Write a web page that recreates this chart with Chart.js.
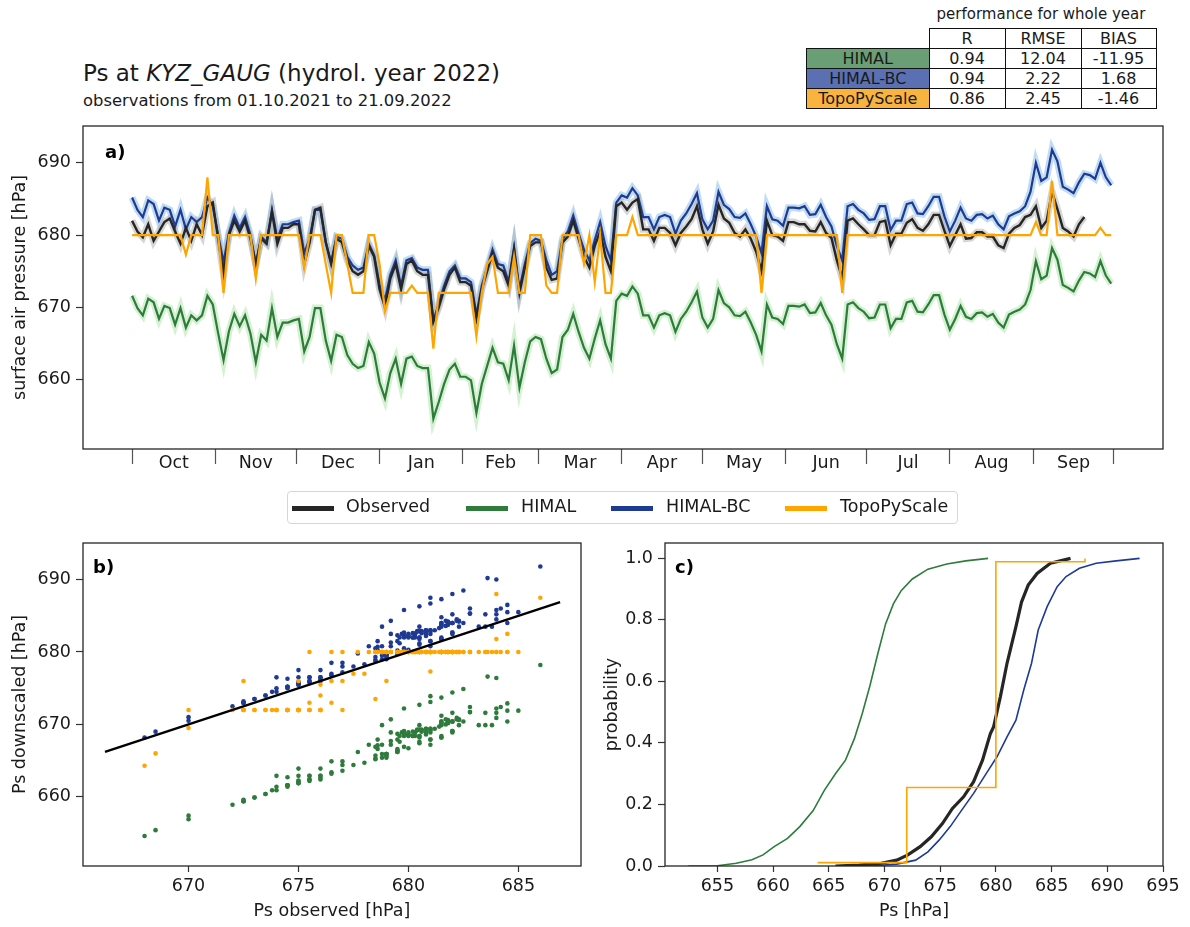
<!DOCTYPE html>
<html>
<head>
<meta charset="utf-8">
<script src="https://cdn.jsdelivr.net/npm/chart.js@4.4.1/dist/chart.umd.min.js"></script>
<style>
  body { margin: 0; background: #fff; font-family: "DejaVu Sans", sans-serif; color: #1a1a1a; }
  #page { position: relative; width: 1190px; height: 927px; overflow: hidden; }
  canvas { position: absolute; }
  .title { position: absolute; left: 83px; top: 62px; font-size: 23px; line-height: 1; white-space: nowrap; }
  .subtitle { position: absolute; left: 83px; top: 93px; font-size: 16.4px; line-height: 1; white-space: nowrap; }
  .perf-head { position: absolute; left: 929px; width: 224px; top: 7px; text-align: center; font-size: 15px; line-height: 1; }
  table.perf { position: absolute; left: 806px; top: 28px; border-collapse: collapse; font-size: 16px; }
  table.perf td { border: 1px solid #111; height: 19px; padding: 0; text-align: center; line-height: 1; }
  table.perf td.blank { border: none; }
  #legend { position: absolute; left: 287px; top: 491px; width: 669px; height: 31px; border: 1px solid #d6d6d6; border-radius: 4px; font-size: 17.5px; }
  #legend .sw { position: absolute; top: 14px; width: 42px; height: 5px; }
  #legend .tx { position: absolute; top: 6px; line-height: 1; white-space: nowrap; }
</style>
</head>
<body>
<div id="page">
  <div class="title">Ps at <i>KYZ_GAUG</i> (hydrol. year 2022)</div>
  <div class="subtitle">observations from 01.10.2021 to 21.09.2022</div>

  <div class="perf-head">performance for whole year</div>
  <table class="perf" id="perf"></table>

  <canvas id="chartA" width="1190" height="400" style="left:0;top:100px"></canvas>
  <div id="legend"></div>
  <canvas id="chartB" width="600" height="407" style="left:0;top:520px"></canvas>
  <canvas id="chartC" width="590" height="407" style="left:600px;top:520px"></canvas>
</div>
<script>
// ---- daily series, one value every 2nd day starting 01.10.2021 (hPa) ----
const observed = [
  682.0, 680.5, 679.7, 681.5, 679.2, 680.5, 681.8, 682.3, 680.5, 678.8,
  681.0, 679.2, 681.5, 680.0, 684.0, 684.5, 679.5, 674.5, 680.0, 682.0,
  680.5, 682.0, 679.5, 676.0, 679.5, 678.8, 683.2, 678.8, 681.0, 681.0,
  681.5, 681.5, 676.0, 679.0, 683.5, 683.8, 679.0, 676.0, 679.5, 679.0,
  676.5, 675.0, 674.5, 675.0, 678.5, 677.0, 672.5, 670.0, 674.0, 676.0,
  672.5, 676.0, 676.5, 675.0, 674.5, 674.5, 668.0, 670.0, 672.5, 674.5,
  675.5, 673.5, 673.5, 673.0, 668.5, 672.5, 675.0, 677.5, 675.5, 675.0,
  673.0, 678.0, 672.0, 675.5, 678.5, 679.0, 679.0, 675.5, 673.8, 674.0,
  679.0, 679.8, 682.0, 679.5, 677.0, 675.5, 678.5, 680.5, 677.0, 675.0,
  684.0, 684.5, 683.5, 684.5, 685.0, 680.8, 680.8, 679.2, 681.0, 681.0,
  680.3, 678.6, 680.3, 681.2, 682.2, 684.0, 680.8, 678.8, 680.5, 684.2,
  682.3, 681.7, 680.3, 679.8, 680.8, 679.5, 677.7, 675.0, 682.0, 680.0,
  679.8, 679.2, 681.8, 681.8, 681.5, 681.5, 680.6, 680.5, 681.8, 680.3,
  679.6, 676.5, 674.0, 682.0, 682.3, 681.5, 680.8, 680.0, 680.0, 681.8,
  682.0, 678.6, 680.2, 680.2, 681.7, 682.2, 681.0, 680.6, 681.5, 682.8,
  682.8, 680.6, 678.5, 680.0, 681.5, 679.5, 679.6, 680.4, 680.4, 679.8,
  679.8, 678.6, 678.2, 680.2, 681.0, 681.4, 682.5, 682.8, 684.0, 681.0,
  682.0, 686.0, 683.6, 681.0, 680.5, 679.8, 681.5, 682.5, null, null,
  null, null, null
];
const himal = [
  671.6, 669.9, 668.9, 671.2, 670.7, 668.4, 670.2, 669.9, 667.6, 669.9,
  667.2, 668.9, 668.2, 668.9, 671.6, 670.4, 666.4, 662.7, 666.7, 669.1,
  667.4, 668.9, 666.4, 662.4, 666.2, 665.4, 669.9, 665.9, 667.9, 667.9,
  668.2, 668.4, 663.9, 665.9, 669.9, 669.9, 665.4, 662.6, 666.2, 665.9,
  663.4, 662.2, 661.6, 661.9, 665.2, 663.6, 659.6, 657.4, 660.9, 662.9,
  659.4, 662.9, 663.2, 661.9, 661.6, 661.6, 654.6, 656.9, 659.4, 661.4,
  662.2, 660.4, 660.4, 659.9, 655.4, 659.4, 661.9, 664.4, 662.4, 662.2,
  659.9, 664.7, 658.9, 662.4, 665.3, 665.9, 665.6, 662.9, 660.9, 661.4,
  665.9, 666.9, 669.1, 666.6, 664.4, 662.9, 665.7, 668.2, 664.9, 662.9,
  670.9, 671.9, 671.6, 672.9, 671.9, 668.9, 668.9, 667.2, 668.9, 669.2,
  668.9, 666.6, 668.4, 669.4, 670.7, 672.2, 668.6, 667.2, 668.4, 672.4,
  670.6, 670.0, 668.9, 668.8, 669.4, 667.9, 666.2, 663.9, 670.4, 668.6,
  668.4, 667.7, 670.2, 670.2, 670.1, 670.4, 669.2, 669.3, 670.6, 668.9,
  667.6, 664.9, 662.9, 670.4, 670.7, 669.9, 669.4, 668.5, 668.6, 670.4,
  670.4, 667.1, 668.4, 668.4, 670.7, 670.9, 669.4, 669.3, 670.4, 671.7,
  671.7, 669.0, 666.9, 668.4, 670.2, 668.7, 668.4, 669.2, 669.3, 668.7,
  669.1, 667.9, 667.2, 669.0, 669.4, 669.7, 670.4, 672.4, 676.4, 673.9,
  674.4, 678.2, 676.6, 673.1, 672.7, 672.2, 673.7, 674.9, 674.7, 674.2,
  676.4, 674.4, 673.3
];
const himalBc = [
  685.2, 683.5, 682.5, 684.8, 684.3, 682.0, 683.8, 683.5, 681.2, 683.5,
  680.8, 682.5, 681.8, 682.5, 685.2, 684.0, 680.0, 676.3, 680.3, 682.7,
  681.0, 682.5, 680.0, 676.0, 679.8, 679.0, 683.5, 679.5, 681.5, 681.5,
  681.8, 682.0, 677.5, 679.5, 683.5, 683.5, 679.0, 676.2, 679.8, 679.5,
  677.0, 675.8, 675.2, 675.5, 678.8, 677.2, 673.2, 671.0, 674.5, 676.5,
  673.0, 676.5, 676.8, 675.5, 675.2, 675.2, 668.2, 670.5, 673.0, 675.0,
  675.8, 674.0, 674.0, 673.5, 669.0, 673.0, 675.5, 678.0, 676.0, 675.8,
  673.5, 678.3, 672.5, 676.0, 678.9, 679.5, 679.2, 676.5, 674.5, 675.0,
  679.5, 680.5, 682.7, 680.2, 678.0, 676.5, 679.3, 681.8, 678.5, 676.5,
  684.5, 685.5, 685.2, 686.5, 685.5, 682.5, 682.5, 680.8, 682.5, 682.8,
  682.5, 680.2, 682.0, 683.0, 684.3, 685.8, 682.2, 680.8, 682.0, 686.0,
  684.2, 683.6, 682.5, 682.4, 683.0, 681.5, 679.8, 677.5, 684.0, 682.2,
  682.0, 681.3, 683.8, 683.8, 683.7, 684.0, 682.8, 682.9, 684.2, 682.5,
  681.2, 678.5, 676.5, 684.0, 684.3, 683.5, 683.0, 682.1, 682.2, 684.0,
  684.0, 680.7, 682.0, 682.0, 684.3, 684.5, 683.0, 682.9, 684.0, 685.3,
  685.3, 682.6, 680.5, 682.0, 683.8, 682.3, 682.0, 682.8, 682.9, 682.3,
  682.7, 681.5, 680.8, 682.6, 683.0, 683.3, 684.0, 686.0, 690.0, 687.5,
  688.0, 691.8, 690.2, 686.7, 686.3, 685.8, 687.3, 688.5, 688.3, 687.8,
  690.0, 688.0, 686.9
];
const topo = [
  680, 680, 680, 680, 680, 680, 680, 680, 680, 680,
  677.3, 680, 680, 680, 688, 680, 680, 672, 680, 680,
  680, 680, 680, 674, 680, 680, 680, 680, 680, 680,
  680, 680, 675.5, 680, 680, 680, 676, 672, 680, 680,
  676, 672, 672, 672, 680, 680, 676, 669.5, 672, 672,
  672, 672, 673, 672, 672, 672, 664.3, 672, 672, 672,
  672, 672, 672, 672, 666, 672, 676, 677, 672, 672,
  672, 677, 672, 672, 680, 680, 680, 673, 672, 672,
  680, 680, 680, 680, 676, 680, 673.5, 680, 672, 672,
  680, 680, 680, 682.5, 680, 680, 680, 680, 680, 680,
  680, 680, 680, 680, 680, 680, 680, 680, 680, 680,
  680, 680, 680, 680, 680, 680, 680, 672, 680, 680,
  680, 680, 680, 680, 680, 680, 680, 680, 680, 680,
  680, 680, 672, 680, 680, 680, 680, 680, 680, 680,
  680, 680, 680, 680, 680, 680, 680, 680, 680, 680,
  680, 680, 680, 680, 680, 680, 680, 680, 680, 680,
  680, 680, 680, 680, 680, 680, 680, 680, 681.8, 680,
  680, 687.5, 680, 680, 680, 680, 680, 680, 680, 680,
  681, 680, 680
];

// month boundaries in days since 01.10.2021
const monthEdges = [0, 31, 61, 92, 123, 151, 182, 212, 243, 273, 304, 335, 365];
const monthNames = ['Oct', 'Nov', 'Dec', 'Jan', 'Feb', 'Mar', 'Apr', 'May', 'Jun', 'Jul', 'Aug', 'Sep'];
const pressTicks = [660, 670, 680, 690];
const obsTicks = [670, 675, 680, 685];
const cdfXTicks = [655, 660, 665, 670, 675, 680, 685, 690, 695];
const probTicks = [0, 0.2, 0.4, 0.6, 0.8, 1.0];

// 1:1 reference line in panel b
const oneToOne = [666.2, 686.9];

const cdfHimalX = [652.4, 655.0, 656.7, 658.1, 659.1, 660.1, 661.3, 662.4, 663.6, 664.6, 665.6, 666.5, 667.3, 668.0, 668.7, 669.4, 670.1, 670.8, 671.5, 672.5, 673.9, 675.6, 677.3, 679.3];
const cdfHimalP = [0, 0.001, 0.009, 0.02, 0.036, 0.063, 0.09, 0.128, 0.18, 0.246, 0.30, 0.344, 0.414, 0.495, 0.587, 0.69, 0.787, 0.852, 0.895, 0.933, 0.965, 0.982, 0.992, 1.0];
const cdfObsX = [665.6, 667.7, 669.7, 671.1, 672.1, 673.2, 674.2, 675.2, 676.1, 677.1, 678.0, 678.8, 679.5, 679.8, 680.4, 681.0, 681.8, 682.3, 682.9, 683.7, 684.9, 686.7];
const cdfObsP = [0, 0.003, 0.009, 0.019, 0.036, 0.063, 0.095, 0.138, 0.187, 0.225, 0.274, 0.344, 0.43, 0.453, 0.55, 0.659, 0.778, 0.858, 0.913, 0.951, 0.984, 1.0];
const cdfBcX = [667.0, 669.0, 671.1, 672.8, 673.9, 674.9, 675.9, 676.9, 678.0, 679.3, 680.1, 681.0, 681.8, 682.5, 683.2, 683.8, 684.6, 685.5, 686.3, 687.5, 689.0, 690.8, 692.9];
const cdfBcP = [0, 0.001, 0.006, 0.019, 0.046, 0.084, 0.128, 0.18, 0.236, 0.31, 0.355, 0.42, 0.474, 0.572, 0.659, 0.767, 0.843, 0.908, 0.941, 0.968, 0.984, 0.992, 1.0];
const cdfTopoX = [664, 672, 672, 680, 680, 688, 688];
const cdfTopoP = [0.011, 0.011, 0.255, 0.255, 0.989, 0.989, 1.0];

// performance table
const perfRows = ['HIMAL', 'HIMAL-BC', 'TopoPyScale'];
const perfCols = ['R', 'RMSE', 'BIAS'];
const perfR = ['0.94', '0.94', '0.86'];
const perfRmse = ['12.04', '2.22', '2.45'];
const perfBias = ['-11.95', '1.68', '-1.46'];

const cObs = '#262626', cHimal = '#2e7b3c', cBc = '#1f3a93', cTopo = '#ffa500';
const rowBg = ['#6a9e74', '#5a70b2', '#f9b43f'];

// ---- html table + legend ----
(function () {
  const t = document.getElementById('perf');
  const widths = [122, 75, 75, 74];
  let html = '<tr><td class="blank" style="width:' + widths[0] + 'px"></td>' +
    perfCols.map((c, j) => '<td style="width:' + widths[j + 1] + 'px">' + c + '</td>').join('') + '</tr>';
  perfRows.forEach((r, i) => {
    html += '<tr><td style="background:' + rowBg[i] + '">' + r + '</td><td>' + perfR[i] +
      '</td><td>' + perfRmse[i] + '</td><td>' + perfBias[i] + '</td></tr>';
  });
  t.innerHTML = html;

  const lg = document.getElementById('legend');
  const items = [['Observed', cObs, 4, 58], ['HIMAL', cHimal, 178, 233], ['HIMAL-BC', cBc, 323, 378], ['TopoPyScale', cTopo, 497, 552]];
  lg.innerHTML = items.map(it =>
    '<div class="sw" style="left:' + it[2] + 'px;background:' + it[1] + '"></div>' +
    '<div class="tx" style="left:' + it[3] + 'px">' + it[0] + '</div>').join('');
})();

Chart.defaults.font.family = '"DejaVu Sans", sans-serif';
Chart.defaults.font.size = 17.5;
Chart.defaults.color = '#1a1a1a';

// frame around the plotting area and the panel letter
const framePlugin = {
  id: 'frame',
  afterDatasetsDraw(chart, args, opts) {
    const { ctx, chartArea: a } = chart;
    ctx.save();
    ctx.strokeStyle = '#262626';
    ctx.lineWidth = 1.3;
    ctx.strokeRect(a.left, a.top, a.right - a.left, a.bottom - a.top);
    ctx.fillStyle = '#000';
    ctx.font = 'bold 18px "DejaVu Sans"';
    ctx.textBaseline = 'middle';
    ctx.fillText(opts.label, a.left + opts.dx, a.top + opts.dy);
    ctx.restore();
  }
};

const fixedTicks = list => scale => { scale.ticks = list.map(v => ({ value: v })); };

function axisY(min, max, list, title, titlePad, width, fmt) {
  return {
    type: 'linear', min: min, max: max,
    afterBuildTicks: fixedTicks(list),
    afterFit: s => { s.width = width; },
    border: { display: false },
    grid: { drawOnChartArea: false, tickLength: 7, tickColor: '#333', tickWidth: 1.2 },
    ticks: { padding: 5, color: '#1a1a1a', callback: fmt || (v => v) },
    title: { display: true, text: title, padding: { top: titlePad, bottom: 0 }, color: '#1a1a1a' }
  };
}
function axisX(min, max, list, title) {
  return {
    type: 'linear', min: min, max: max,
    afterBuildTicks: fixedTicks(list),
    afterFit: s => { s.height = 61; },
    border: { display: false },
    grid: { drawOnChartArea: false, tickLength: 6, tickColor: '#333', tickWidth: 1.2 },
    ticks: { padding: 4, color: '#1a1a1a', maxRotation: 0, autoSkip: false, callback: v => v },
    title: { display: true, text: title, padding: { top: 0, bottom: 5.5 }, color: '#1a1a1a' }
  };
}

// ---- panel a: time series ----
const days = himalBc.map((_, i) => i * 2);
const pts = arr => arr.map((v, i) => ({ x: days[i], y: v }));
const monthMids = monthNames.map((_, i) => (monthEdges[i] + monthEdges[i + 1]) / 2);
const monthTicks = monthEdges.map(v => ({ value: v })).concat(monthMids.map(v => ({ value: v })));
const midName = new Map(monthMids.map((v, i) => [v, monthNames[i]]));

function lineSet(label, arr, color, width, order) {
  return { label: label, data: pts(arr), borderColor: color, borderWidth: width, pointRadius: 0,
           tension: 0, fill: false, order: order, spanGaps: false };
}

new Chart(document.getElementById('chartA'), {
  type: 'line',
  data: {
    datasets: [
      lineSet('TopoPyScale', topo, cTopo, 2.2, 1),
      lineSet('Observed', observed, cObs, 2.4, 2),
      lineSet('HIMAL-BC', himalBc, cBc, 2.2, 3),
      lineSet('HIMAL', himal, cHimal, 2.2, 4),
      lineSet('obs spread', observed, 'rgba(165,165,165,0.45)', 7, 5),
      lineSet('bc spread', himalBc, 'rgba(130,185,232,0.5)', 7, 6),
      lineSet('himal spread', himal, 'rgba(170,228,165,0.5)', 7, 7)
    ]
  },
  options: {
    responsive: false, animation: false, devicePixelRatio: 1,
    layout: { padding: { left: 0, right: 27, top: 26, bottom: 0 } },
    plugins: { legend: { display: false }, tooltip: { enabled: false },
               frame: { label: 'a)', dx: 22, dy: 27 } },
    scales: {
      x: {
        type: 'linear', min: -18.25, max: 383.25,
        afterBuildTicks: s => { s.ticks = monthTicks.slice(); },
        afterFit: s => { s.height = 51; },
        border: { display: false },
        grid: {
          drawOnChartArea: false, tickLength: 15, tickWidth: 1.2,
          tickColor: c => (c.tick && midName.has(c.tick.value)) ? 'rgba(0,0,0,0)' : '#555'
        },
        ticks: { autoSkip: false, maxRotation: 0, padding: -11, color: '#1a1a1a',
                 callback: v => midName.get(v) || '' }
      },
      y: axisY(650.4, 695.1, pressTicks, 'surface air pressure [hPa]', 9.5, 83)
    }
  },
  plugins: [framePlugin]
});

// ---- panel b: scatter downscaled vs observed ----
function pairs(arr) {
  const out = [];
  observed.forEach((o, i) => { if (o !== null && arr[i] !== null) out.push({ x: o, y: arr[i] }); });
  return out;
}
function dots(label, arr, color, order) {
  return { type: 'scatter', label: label, data: pairs(arr), backgroundColor: color, borderWidth: 0,
           pointRadius: 2.3, order: order };
}
new Chart(document.getElementById('chartB'), {
  type: 'scatter',
  data: {
    datasets: [
      { type: 'line', label: '1:1', data: oneToOne.map(v => ({ x: v, y: v })), borderColor: '#000',
        borderWidth: 2.4, pointRadius: 0, order: 0 },
      dots('TopoPyScale', topo, cTopo, 1),
      dots('HIMAL-BC', himalBc, cBc, 2),
      dots('HIMAL', himal, cHimal, 3)
    ]
  },
  options: {
    responsive: false, animation: false, devicePixelRatio: 1,
    layout: { padding: { left: 0, right: 19, top: 23, bottom: 0 } },
    plugins: { legend: { display: false }, tooltip: { enabled: false },
               frame: { label: 'b)', dx: 10, dy: 25 } },
    scales: {
      x: axisX(665.2, 687.85, obsTicks, 'Ps observed [hPa]'),
      y: axisY(650.45, 695.05, pressTicks, 'Ps downscaled [hPa]', 9.5, 83)
    }
  },
  plugins: [framePlugin]
});

// ---- panel c: cumulative distributions ----
const cdf = (xs, ps) => xs.map((x, i) => ({ x: x, y: ps[i] }));
function cdfSet(label, xs, ps, color, width, order) {
  return { label: label, data: cdf(xs, ps), borderColor: color, borderWidth: width, pointRadius: 0,
           tension: 0, fill: false, order: order };
}
new Chart(document.getElementById('chartC'), {
  type: 'line',
  data: {
    datasets: [
      cdfSet('TopoPyScale', cdfTopoX, cdfTopoP, cTopo, 1.6, 1),
      cdfSet('Observed', cdfObsX, cdfObsP, cObs, 3.2, 2),
      cdfSet('HIMAL-BC', cdfBcX, cdfBcP, cBc, 1.6, 3),
      cdfSet('HIMAL', cdfHimalX, cdfHimalP, cHimal, 1.6, 4)
    ]
  },
  options: {
    responsive: false, animation: false, devicePixelRatio: 1,
    layout: { padding: { left: 0, right: 27, top: 23, bottom: 0 } },
    plugins: { legend: { display: false }, tooltip: { enabled: false },
               frame: { label: 'c)', dx: 10, dy: 25 } },
    scales: {
      x: axisX(650.3, 695, cdfXTicks, 'Ps [hPa]'),
      y: axisY(0, 1.05, probTicks, 'probability', 1.5, 65, v => v.toFixed(1))
    }
  },
  plugins: [framePlugin]
});
</script>
</body>
</html>
